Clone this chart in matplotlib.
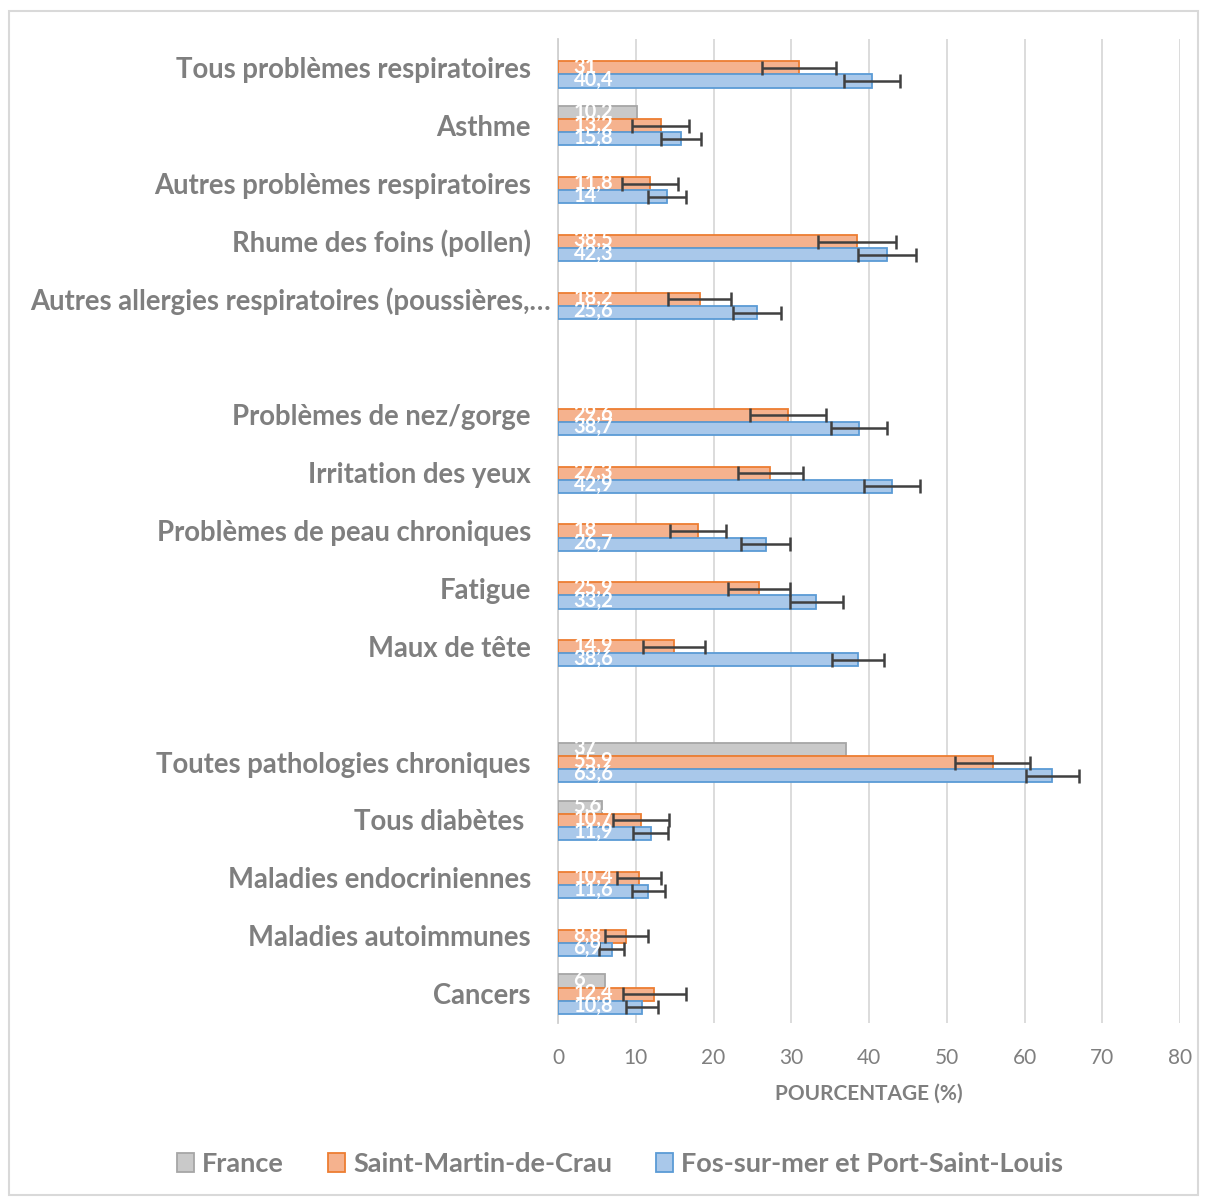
import numpy as np
import matplotlib.pyplot as plt
from matplotlib.patches import Patch, Rectangle
from matplotlib import transforms

plt.rcParams['font.family'] = ['Lato', 'DejaVu Sans']

W, H = 1208, 1199
nan = np.nan

categories = [
    "Tous problèmes respiratoires", "Asthme", "Autres problèmes respiratoires",
    "Rhume des foins (pollen)", "Autres allergies respiratoires (poussières,…", "",
    "Problèmes de nez/gorge", "Irritation des yeux", "Problèmes de peau chroniques",
    "Fatigue", "Maux de tête", "",
    "Toutes pathologies chroniques", "Tous diabètes ", "Maladies endocriniennes",
    "Maladies autoimmunes", "Cancers",
]
france = [nan, 10.2, nan, nan, nan, nan, nan, nan, nan, nan, nan, nan, 37, 5.6, nan, nan, 6]
smc = [31, 13.2, 11.8, 38.5, 18.2, nan, 29.6, 27.3, 18, 25.9, 14.9, nan, 55.9, 10.7, 10.4, 8.8, 12.4]
smc_err = [4.8, 3.7, 3.6, 5.0, 4.1, nan, 4.9, 4.2, 3.6, 4.0, 4.0, nan, 4.8, 3.6, 2.8, 2.8, 4.0]
fos = [40.4, 15.8, 14, 42.3, 25.6, nan, 38.7, 42.9, 26.7, 33.2, 38.6, nan, 63.6, 11.9, 11.6, 6.9, 10.8]
fos_err = [3.6, 2.6, 2.4, 3.7, 3.1, nan, 3.6, 3.6, 3.2, 3.4, 3.3, nan, 3.4, 2.2, 2.1, 1.6, 2.0]

series = [
    ("France", france, None, "#c9c9c9", "#a6a6a6", -1),
    ("Saint-Martin-de-Crau", smc, smc_err, "#f5b28e", "#ed7d31", 0),
    ("Fos-sur-mer et Port-Saint-Louis", fos, fos_err, "#a9c8ea", "#5b9bd5", 1),
]

fig = plt.figure(figsize=(W / 100, H / 100), dpi=100)
fig.patches.append(Rectangle((9 / W, 4 / H), 1189 / W, 1184 / H, transform=fig.transFigure,
                             fill=False, edgecolor="#d9d9d9", lw=1.5))

ax = fig.add_axes([558 / W, 1 - 1023 / H, 622 / W, 984 / H])
y = np.arange(len(categories))
bh = 0.226

for name, vals, errs, fc, ec, k in series:
    vals = np.array(vals, dtype=float)
    ok = ~np.isnan(vals)
    ax.barh(y[ok] + k * bh, vals[ok], height=bh, color=fc, edgecolor=ec, lw=1.3, zorder=3)
    if errs is not None:
        errs = np.array(errs, dtype=float)
        ax.errorbar(vals[ok], y[ok] + k * bh, xerr=errs[ok], fmt="none", ecolor="#404040",
                    elinewidth=1.8, capsize=5, capthick=1.8, zorder=4)
    for yy, v in zip(y[ok] + k * bh, vals[ok]):
        ax.text(2.0, yy - 0.02, f"{v:g}".replace(".", ","), color="white", fontsize=14.5,
                fontweight="bold", va="center", ha="left", zorder=5)

ax.set_xlim(0, 80)
ax.set_ylim(len(categories) - 0.5, -0.5)
ax.set_xticks(range(0, 81, 10))
ax.set_yticks([])
ax.tick_params(axis="x", length=0, pad=18, labelsize=15, labelcolor="#7f7f7f")
ax.grid(axis="x", color="#d9d9d9", lw=1.3, zorder=0)
for s in ["top", "right", "bottom"]:
    ax.spines[s].set_visible(False)
ax.spines["left"].set_color("#d0d0d0")
ax.spines["left"].set_linewidth(1.3)
ax.set_xlabel("POURCENTAGE (%)", fontsize=15, fontweight="bold", color="#7f7f7f", labelpad=11)

base = transforms.blended_transform_factory(ax.transAxes, ax.transData)
for yy, lab in zip(y, categories):
    dx = -7 if lab.endswith("…") else -27
    tr = transforms.offset_copy(base, fig=fig, x=dx, y=-2, units="dots")
    ax.text(0, yy, lab, transform=tr, ha="right", va="center", fontsize=19.8,
            fontweight="bold", color="#7f7f7f")

handles = [Patch(facecolor=fc, edgecolor=ec, lw=1.3) for _, _, _, fc, ec, _ in series]
fig.legend(handles, [s[0] for s in series], loc="center", bbox_to_anchor=(620 / W, 1 - 1164 / H),
           ncol=3, frameon=False, handlelength=0.65, handleheight=0.65,
           handletextpad=0.3, columnspacing=1.6, labelcolor="#7f7f7f",
           prop={"size": 19.5, "weight": "bold"})

fig.savefig("out.png", dpi=100)
